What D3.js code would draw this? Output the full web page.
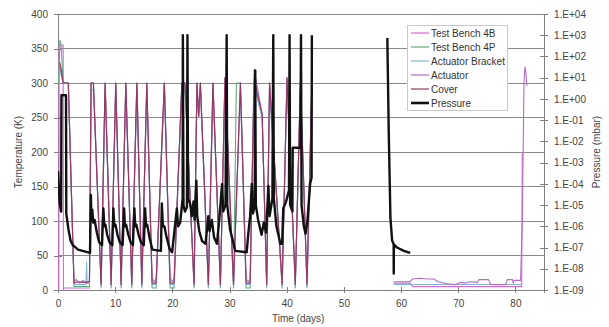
<!DOCTYPE html>
<html><head><meta charset="utf-8">
<script src="https://cdn.jsdelivr.net/npm/d3@7"></script>
<style>body{margin:0;background:#fff}svg text{font-family:"Liberation Sans",Arial,sans-serif}</style>
</head><body><svg id="c" width="609" height="327"></svg>
<script>
const tempTicks=[0,50,100,150,200,250,300,350,400];
const timeTicks=[0,10,20,30,40,50,60,70,80];
const pressureTicks=[1e-9,1e-8,1e-7,1e-6,1e-5,1e-4,1e-3,1e-2,1e-1,1,1e1,1e2,1e3,1e4];
const seriesNames=["Test Bench 4B","Test Bench 4P","Actuator Bracket","Actuator","Cover","Pressure"];
const seriesColors=["#e060e0","#5fae7a","#80b6d6","#b26cc4","#963760","#111111"];

const bench4B=[[0.15,0],[0.2,355],[0.9,355],[0.95,0],[1.0,3],[5.6,3],null,
[58.7,10],[61.6,10],[62,5],[81.1,5],[81.2,200]];

const bench4P=[[0.1,300],[0.35,362],[0.55,355],[0.9,300],[1.8,300],[2.8,5],[5.5,5],[5.8,300],[6.2,300],[7.55,3],[8.25,300],[9.3,3],[10.1,300],[11.05,3],[11.86,300],[12.9,3],[13.8,300],[14.66,3],[15.53,300],[16.46,3],[17.16,3],[18.6,300],[19.6,3],[20.3,3],[21.66,300],[22.2,300],[23.8,3],[24.3,300],[24.6,252],[24.9,300],[26.3,3],[27.1,300],[28.4,3],[29.2,305],[30.7,3],[31.2,300],[31.9,300],[32.9,3],[33.6,3],[34.3,300],[35.7,255],[36.5,3],[37.0,300],[39.2,3],[40.05,305],[41.5,3],[42.4,300],[43.55,3],[44.4,300]];

const bracket=[[0.3,320],[0.9,300],[1.8,300],[2.8,8],[4.9,8],[5.0,40],[5.1,10],[5.5,10],[5.8,290],[6.2,290],[7.55,6],[8.25,290],[9.3,6],[10.1,290],[11.05,6],[11.86,290],[12.9,6],[13.8,290],[14.66,6],[15.53,290],[16.46,8],[17.16,8],[18.6,290],[19.6,8],[20.3,8],[21.66,290],[22.2,290],[23.8,6],[24.3,290],[24.6,250],[24.9,290],[26.3,6],[27.1,290],[28.4,6],[29.2,295],[30.7,6],[31.9,290],[32.9,8],[33.6,8],[34.3,295],[35.7,250],[36.5,6],[37.0,290],[39.2,6],[40.05,295],[41.5,6],[42.4,290],[43.55,6],[44.4,290],null,
[58.7,8],[81.0,8]];

const actuator=[[0.3,325],[0.9,300],[1.8,300],[2.8,12],[3.2,15],[3.8,10],[4.4,14],[5.0,10],[5.5,13],[5.8,300],[6.2,300],[7.55,10],[8.25,300],[9.3,10],[10.1,300],[11.05,10],[11.86,300],[12.9,10],[13.8,300],[14.66,10],[15.53,300],[16.46,18],[16.8,12],[17.16,16],[18.6,300],[19.6,18],[20.0,12],[20.3,16],[21.66,300],[22.2,300],[23.8,10],[24.3,300],[24.6,252],[24.9,300],[26.3,10],[27.1,300],[28.4,10],[29.2,308],[30.7,10],[31.9,300],[32.9,16],[33.3,12],[33.6,15],[34.3,320],[35.7,255],[36.5,10],[37.0,300],[39.2,10],[40.05,308],[41.5,10],[42.4,300],[43.55,10],[44.4,300],null,
[58.7,12],[61.6,12],[62.0,16],[63.5,17],[64.5,16],[65.7,16],[66.5,12],[68.0,9],[69.5,8],[70.4,11],[71.3,10],[72.0,12],[73.4,11],[73.6,15],[75.3,15],[75.7,8],[78.3,8],[78.6,15],[79.5,15],[79.6,10],[79.8,14],[80.9,14],[81.2,100],[81.5,300],[81.66,323],[81.8,318],[81.96,300],[82.05,296]];

const cover=[[0.3,330],[0.6,318],[0.9,300],[1.8,300],[2.8,10],[3.5,12],[4.5,11],[5.5,12],[5.78,300],[6.18,300],[7.53,8],[8.23,300],[9.28,8],[10.1,300],[11.03,8],[11.86,300],[12.9,8],[13.78,300],[14.66,8],[15.53,300],[16.46,10],[17.16,10],[18.6,300],[19.6,10],[20.3,10],[21.66,300],[22.2,300],[23.8,8],[24.3,300],[24.6,252],[24.9,300],[26.3,8],[27.1,300],[28.4,8],[29.2,308],[30.7,8],[31.9,300],[32.9,10],[33.6,10],[34.3,305],[35.7,255],[36.5,8],[37.0,300],[39.2,8],[40.05,308],[41.5,8],[42.4,300],[43.55,8],[44.4,300]];

const pressure=[[0,4e-4],[0.3,1.2e-5],[0.55,5e-6],[0.6,1.5],[1.4,1.5],[1.45,4e-6],[1.8,8e-7],[2.2,2.1e-7],[2.6,1.3e-7],[3.5,8e-8],[5.6,5.6e-8],
[5.75,3e-5],[5.85,2e-6],[6.0,6e-6],[6.15,1.5e-6],[6.4,2e-6],[6.8,5e-7],[7.2,1.8e-7],[7.7,1.3e-7],[7.93,7e-6],[8.1,1e-6],[8.3,1.2e-6],[8.6,4e-7],[9.0,1.8e-7],[9.5,1.3e-7],[9.68,7e-6],[9.85,1e-6],[10.05,1.2e-6],[10.4,4e-7],[10.8,1.8e-7],[11.3,1.3e-7],[11.56,7e-6],[11.7,1e-6],[11.9,1.2e-6],[12.3,4e-7],[12.7,1.8e-7],[13.1,1.3e-7],[13.36,7e-6],[13.5,1e-6],[13.7,1.2e-6],[14.1,4e-7],[14.5,1.8e-7],[15.0,1.3e-7],[15.24,7e-6],[15.4,1e-6],[15.6,1.2e-6],[16.0,3e-7],[16.5,8e-8],[18.0,7e-8],[18.16,1.2e-5],[18.35,1e-6],[18.6,1e-6],[19.0,3e-7],[19.5,9e-8],[19.96,6e-8],[20.79,7e-6],[21.0,1e-6],[21.37,1.5e-6],[21.8,2e-5],[21.84,1000],[21.95,1e-5],[22.2,5e-6],[22.55,8e-6],[22.64,1000],[22.75,2e-5],[23.1,1.2e-5],[23.4,3e-6],[23.7,1.5e-5],[23.9,2e-6],[24.2,1.4e-4],[24.35,3e-6],[24.7,6e-7],[25.2,2e-7],[25.8,1.5e-7],[26.3,3e-6],[26.5,6e-7],[26.9,2e-6],[27.3,3e-7],[27.8,1.5e-7],[28.2,2e-6],[28.7,1e-4],[28.9,5e-6],[29.3,1e-5],[29.5,1000],[29.6,1e-5],[30.1,7e-7],[30.6,2e-7],[31.0,7e-8],[33.0,6e-8],[33.3,5e-7],[33.6,3e-6],[33.9,1e-4],[34.1,4e-6],[34.4,1e-5],[34.5,22],[34.6,1e-5],[35.0,2e-6],[35.6,4e-7],[36.0,1.5e-6],[36.4,5e-7],[36.8,8e-5],[37.0,3e-6],[37.5,2e-5],[37.65,1000],[37.75,2e-5],[38.2,1e-6],[38.9,1.5e-7],[39.2,1.5e-7],[39.4,7e-6],[39.9,1.5e-5],[40.4,5e-5],[40.5,1000],[40.6,1e-5],[41.0,5e-6],[41.05,5e-3],[42.4,5e-3],[42.5,1000],[42.6,1e-5],[43.0,1e-6],[43.3,4.5e-7],[43.6,1.5e-6],[44.1,1e-4],[44.35,2e-4],[44.4,1000],null,
[57.6,740],[57.85,0.024],[58.14,2.5e-6],[58.44,2.1e-7],[58.7,1.5e-7],[58.72,6e-9],[58.75,1.4e-7],[59.3,1e-7],[60.5,7e-8],[61.6,5.6e-8]];

const svg=d3.select("#c");
const L=58,R=544,T=14,B=290;
const x=d3.scaleLinear().domain([0,85]).range([L,R]);
const yT=d3.scaleLinear().domain([0,400]).range([B,T]);
const yP=d3.scaleLog().domain([1e-9,1e4]).range([B,T]);

svg.append("defs").append("clipPath").attr("id","clip").append("rect")
  .attr("x",L).attr("y",T-1).attr("width",R-L).attr("height",B-T+2);

svg.append("g").selectAll("line").data(tempTicks.filter(d=>d>0)).join("line")
  .attr("x1",L).attr("x2",R).attr("y1",d=>yT(d)).attr("y2",d=>yT(d))
  .attr("stroke","#8a8a8a").attr("stroke-width",1).attr("shape-rendering","crispEdges");

const axisColor="#808080", labelColor="#444";
function styleAxis(g){
  g.select(".domain").attr("stroke",axisColor).attr("shape-rendering","crispEdges");
  g.selectAll(".tick line").attr("stroke",axisColor).attr("shape-rendering","crispEdges");
  g.selectAll(".tick text").attr("fill",labelColor).attr("font-size","10px")
   .attr("font-family","'Liberation Sans',Arial,sans-serif");
}
const gl=svg.append("g").attr("transform",`translate(${L},0)`)
  .call(d3.axisLeft(yT).tickValues(tempTicks).tickSizeOuter(0).tickSize(4).tickPadding(6));
styleAxis(gl); gl.selectAll(".tick line").attr("x1",-4).attr("x2",4);

const gr=svg.append("g").attr("transform",`translate(${R},0)`)
  .call(d3.axisRight(yP).tickValues(pressureTicks).tickSizeOuter(0).tickSize(4).tickPadding(6)
  .tickFormat(d=>{const e=Math.round(Math.log10(d));return "1.E"+(e<0?"-":"+")+String(Math.abs(e)).padStart(2,"0");}));
styleAxis(gr); gr.selectAll(".tick line").attr("x1",-4).attr("x2",4);

const gb=svg.append("g").attr("transform",`translate(0,${B})`)
  .call(d3.axisBottom(x).tickValues(timeTicks).tickSizeOuter(0).tickSize(3).tickPadding(7));
styleAxis(gb); gb.selectAll(".tick line").attr("y1",-3).attr("y2",3);

svg.append("text").attr("transform","translate(22,152) rotate(-90)").attr("text-anchor","middle")
  .attr("font-size","10px").attr("fill",labelColor).text("Temperature (K)");
svg.append("text").attr("transform","translate(600,152) rotate(-90)").attr("text-anchor","middle")
  .attr("font-size","10px").attr("fill",labelColor).text("Pressure (mbar)");
svg.append("text").attr("x",x(42)).attr("y",322).attr("text-anchor","middle")
  .attr("font-size","10px").attr("fill",labelColor).text("Time (days)");

const plot=svg.append("g").attr("clip-path","url(#clip)");
const lineT=d3.line().defined(d=>d!=null).x(d=>x(d[0])).y(d=>yT(d[1]));
const lineP=d3.line().defined(d=>d!=null).x(d=>x(d[0])).y(d=>yP(d[1]));
const tempSeries=[bench4B,bench4P,bracket,actuator,cover];
tempSeries.forEach((s,i)=>{
  plot.append("path").datum(s).attr("d",lineT).attr("fill","none")
    .attr("stroke",seriesColors[i]).attr("stroke-width",1.1).attr("stroke-linejoin","round");
});
plot.append("path").datum(pressure).attr("d",lineP).attr("fill","none")
  .attr("stroke",seriesColors[5]).attr("stroke-width",2.4).attr("stroke-linejoin","round");

const lg=svg.append("g");
lg.append("rect").attr("x",407.5).attr("y",25.5).attr("width",100).attr("height",85)
  .attr("fill","#fff").attr("stroke","#c8c8c8");
seriesNames.forEach((n,i)=>{
  const yy=33+i*14;
  lg.append("line").attr("x1",411).attr("x2",429).attr("y1",yy).attr("y2",yy)
    .attr("stroke",seriesColors[i]).attr("stroke-width",i===5?2.6:1.2);
  lg.append("text").attr("x",431).attr("y",yy+3.5).attr("font-size","10px").attr("fill","#333").text(n);
});
</script></body></html>
